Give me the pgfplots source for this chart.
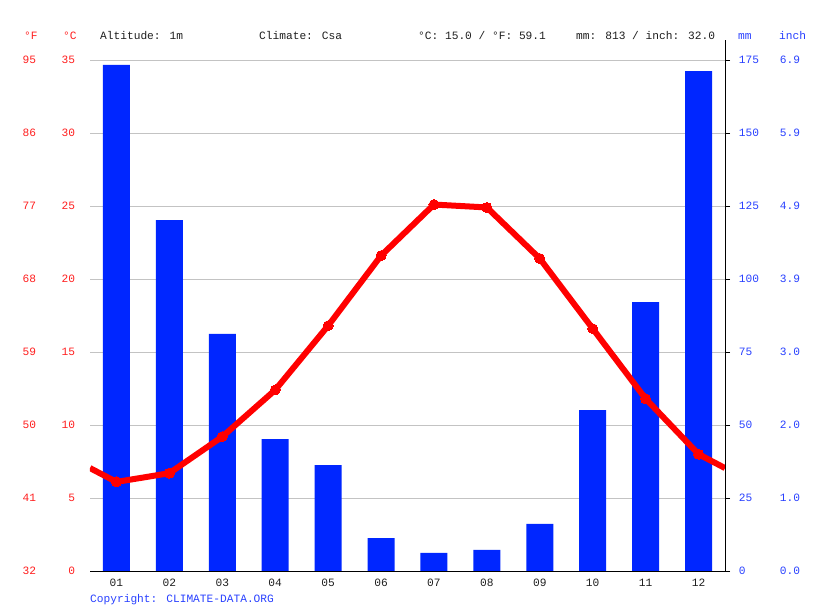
\documentclass[border=0pt]{standalone}
\usepackage{pgfplots}
\pgfplotsset{compat=1.18}
\usepackage{fontspec}
\setmainfont{Liberation Mono}
\definecolor{cdred}{RGB}{255,0,0}
\definecolor{tred}{RGB}{255,30,30}
\definecolor{cdblue}{RGB}{0,38,255}
\definecolor{tblue}{RGB}{40,64,255}
\definecolor{cdgrid}{RGB}{195,195,195}
\definecolor{cdtext}{RGB}{30,30,30}

% precipitation (mm) per month
\pgfplotstableread{
m mm
1 173.3
2 120.2
3 81.2
4 45.2
5 36.3
6 11.3
7 6.2
8 7.2
9 16.1
10 55.1
11 92.1
12 171.2
}\precip
% mean temperature (C); the ends are the Dec-Jan midpoint
\pgfplotstableread{
m t
0.5 7.05
1 6.1
2 6.7
3 9.2
4 12.4
5 16.8
6 21.6
7 25.1
8 24.9
9 21.4
10 16.6
11 11.8
12 8.0
12.5 7.05
}\temps

\pgfplotsset{
  cd/.style={
    scale only axis, width=635pt, height=511pt,
    at={(90pt,40pt)}, anchor=south west,
    xmin=0.5, xmax=12.5,
    tick label style={font=\fontsize{11.2}{13}\selectfont},
    /pgf/number format/assume math mode=true,
  },
}

\begin{document}
\fontsize{11.2}{13}\selectfont
\begin{tikzpicture}[x=1pt,y=1pt]
\path[use as bounding box] (0,0) rectangle (815,611);

% bars, right mm axis, months
\begin{axis}[cd,
  ymin=0, ymax=175,
  axis y line*=right, axis x line*=bottom,
  axis line style={black, line width=0.8pt},
  ytick={0,25,...,175},
  yticklabel style={tblue, xshift=5pt},
  ymajorgrids, grid style={cdgrid, line width=0.8pt},
  tick align=outside, major tick length=5pt,
  tick style={black, line width=0.8pt},
  xtick={1,...,12},
  xticklabels={01,02,03,04,05,06,07,08,09,10,11,12},
  xticklabel style={cdtext, yshift=1pt},
  x tick style={draw=none},
  extra x ticks={0.5,1.5,...,12.5},
  extra x tick labels={},
  extra x tick style={tick style={black, line width=0.8pt}, major tick length=5pt},
]
\addplot[ybar, bar width=27pt, fill=cdblue, draw=none] table[x=m, y=mm] {\precip};
\end{axis}

% inch labels
\begin{axis}[cd,
  ymin=0, ymax=175, hide x axis,
  axis y line*=right, y axis line style={draw=none},
  ytick={0,25,...,175},
  yticklabels={0.0,1.0,2.0,3.0,3.9,4.9,5.9,6.9},
  yticklabel style={tblue, xshift=51pt},
  major tick length=0pt,
]
\addplot[draw=none] coordinates {(1,0)};
\end{axis}

% Fahrenheit labels
\begin{axis}[cd,
  ymin=0, ymax=35, hide x axis,
  axis y line*=left, y axis line style={draw=none},
  ytick={0,5,...,35},
  yticklabels={32,41,50,59,68,77,86,95},
  yticklabel style={tred, xshift=-50pt},
  major tick length=0pt,
]
\addplot[draw=none] coordinates {(1,0)};
\end{axis}

% temperature line, Celsius labels
\begin{axis}[cd,
  ymin=0, ymax=35, hide x axis,
  axis y line*=left, y axis line style={draw=none},
  ytick={0,5,...,35},
  yticklabel style={tred, xshift=-11pt},
  major tick length=0pt,
]
\addplot[cdred, line width=6pt, line join=round,
  mark=*, mark size=5pt, mark options={fill=cdred, line width=0pt},
  mark indices={2,...,13}] table[x=m, y=t] {\temps};
\end{axis}

\draw[black, line width=0.8pt] (725,40) -- (725,571);

\node[anchor=base west, tred, inner sep=0] at (24,571) {°F};
\node[anchor=base west, tred, inner sep=0] at (63,571) {°C};
\node[anchor=base west, cdtext, inner sep=0] at (100,571) {Altitude: 1m};
\node[anchor=base west, cdtext, inner sep=0] at (259,571) {Climate: Csa};
\node[anchor=base west, cdtext, inner sep=0] at (418,571) {°C: 15.0 / °F: 59.1};
\node[anchor=base west, cdtext, inner sep=0] at (576,571) {mm: 813 / inch: 32.0};
\node[anchor=base west, tblue, inner sep=0] at (738,571) {mm};
\node[anchor=base west, tblue, inner sep=0] at (779,571) {inch};
\node[anchor=base west, tblue, inner sep=0] at (90,8) {Copyright: CLIMATE-DATA.ORG};
\end{tikzpicture}
\end{document}
